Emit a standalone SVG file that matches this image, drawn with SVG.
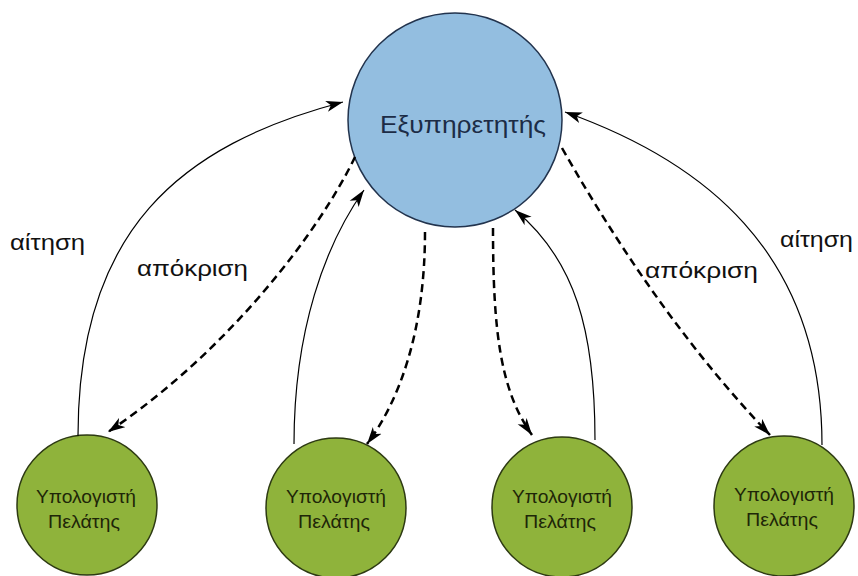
<svg xmlns="http://www.w3.org/2000/svg" width="858" height="576" viewBox="0 0 858 576">
<defs>
<style>
.srv{fill:#93bee0;stroke:#22334d;stroke-width:1.5}
.cli{fill:#8fb33b;stroke:#2d3a12;stroke-width:1.5}
.st{font-family:"Liberation Sans",Arial,sans-serif;fill:#1c2c46}
.ct{font-family:"Liberation Sans",Arial,sans-serif;fill:#1e2608;font-size:17.5px;text-anchor:middle}
.lb{font-family:"Liberation Sans",Arial,sans-serif;fill:#111;font-size:22px}
.req{fill:none;stroke:#000;stroke-width:1.2;marker-end:url(#ah)}
.rsp{fill:none;stroke:#000;stroke-width:2.5;stroke-dasharray:8 5;marker-end:url(#ah)}
</style>
<marker id="ah" markerUnits="userSpaceOnUse" markerWidth="18" markerHeight="12" refX="17" refY="5.5" orient="auto" viewBox="0 0 18 11">
<path d="M0,0 L17,5.5 L0,11 L4.5,5.5 z" fill="#000"/>
</marker>
</defs>
<rect width="858" height="576" fill="#fff"/>
<g id="server">
<circle class="srv" cx="455" cy="120" r="107"/>
<text class="st" x="463" y="133" font-size="24" text-anchor="middle" textLength="166" lengthAdjust="spacingAndGlyphs">Εξυπηρετητής</text>
</g>
<g id="client1">
<circle class="cli" cx="87" cy="505" r="70"/>
<text class="ct" x="86" y="503" textLength="100" lengthAdjust="spacingAndGlyphs">Υπολογιστή</text>
<text class="ct" x="84" y="528" textLength="72" lengthAdjust="spacingAndGlyphs">Πελάτης</text>
</g>
<g id="client2">
<circle class="cli" cx="336" cy="508" r="70"/>
<text class="ct" x="336" y="503" textLength="100" lengthAdjust="spacingAndGlyphs">Υπολογιστή</text>
<text class="ct" x="334" y="528" textLength="72" lengthAdjust="spacingAndGlyphs">Πελάτης</text>
</g>
<g id="client3">
<circle class="cli" cx="562" cy="507" r="70"/>
<text class="ct" x="562" y="503" textLength="100" lengthAdjust="spacingAndGlyphs">Υπολογιστή</text>
<text class="ct" x="560" y="528" textLength="72" lengthAdjust="spacingAndGlyphs">Πελάτης</text>
</g>
<g id="client4">
<circle class="cli" cx="784" cy="506" r="70"/>
<text class="ct" x="784" y="501" textLength="100" lengthAdjust="spacingAndGlyphs">Υπολογιστή</text>
<text class="ct" x="782" y="526" textLength="72" lengthAdjust="spacingAndGlyphs">Πελάτης</text>
</g>
<g id="connectors">
<path class="req" d="M78 436 C78 230 180 145 343 102"/>
<path class="rsp" d="M355 157 C320 230 230 350 108 432"/>
<path class="req" d="M294 444 C294 330 325 245 364 190"/>
<path class="rsp" d="M425 232 C425 330 400 400 367 444"/>
<path class="rsp" d="M493 228 C493 330 500 390 532 435"/>
<path class="req" d="M595 440 C595 330 575 260 515 210"/>
<path class="rsp" d="M562 148 Q660 320 770 435"/>
<path class="req" d="M822 445 C822 250 700 160 565 112"/>
</g>
<g id="labels">
<text class="lb" x="10" y="250" textLength="75" lengthAdjust="spacingAndGlyphs">αίτηση</text>
<text class="lb" x="137" y="276" textLength="111" lengthAdjust="spacingAndGlyphs">απόκριση</text>
<text class="lb" x="645" y="278" textLength="113" lengthAdjust="spacingAndGlyphs">απόκριση</text>
<text class="lb" x="780" y="247" textLength="73" lengthAdjust="spacingAndGlyphs">αίτηση</text>
</g>
</svg>
